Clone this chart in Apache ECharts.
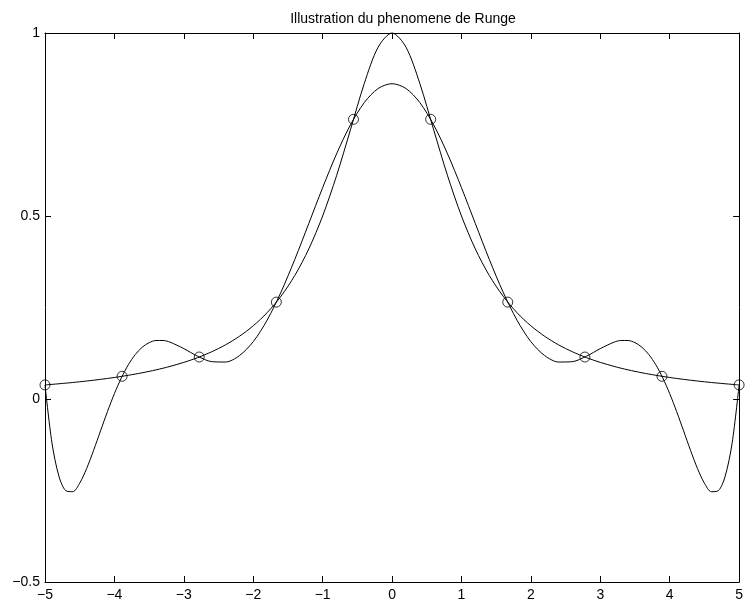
<!DOCTYPE html>
<html>
<head>
<meta charset="utf-8">
<script src="https://cdn.jsdelivr.net/npm/echarts@6/dist/echarts.min.js"></script>
<style>
	html, body { margin: 0; padding: 0; background: #fff; }
	#main { width: 746px; height: 607px; }
</style>
</head>
<body>
<div id="main"></div>
<script>
	// abscisses des points de trace
	var xs = [-5, -4.9, -4.8, -4.7, -4.6, -4.5, -4.4, -4.3, -4.2, -4.1, -4, -3.9, -3.8, -3.7, -3.6, -3.5, -3.4, -3.3,
		-3.2, -3, -2.8, -2.6, -2.4, -2.2, -2, -1.8, -1.6, -1.4, -1.2, -1, -0.8, -0.6, -0.4, -0.2,
		0, 0.2, 0.4, 0.6, 0.8, 1, 1.2, 1.4, 1.6, 1.8, 2, 2.2, 2.4, 2.6, 2.8, 3, 3.2,
		3.3, 3.4, 3.5, 3.6, 3.7, 3.8, 3.9, 4, 4.1, 4.2, 4.3, 4.4, 4.5, 4.6, 4.7, 4.8, 4.9, 5];

	// polynome interpolateur
	var polyVals = [0.0385, -0.1197, -0.2106, -0.2506, -0.2533, -0.2300, -0.1899, -0.1403, -0.0870, -0.0343, 0.0147, 0.0577, 0.0935, 0.1214, 0.1414, 0.1540, 0.1598, 0.1599,
		0.1554, 0.1377, 0.1168, 0.1021, 0.1010, 0.1184, 0.1566, 0.2154, 0.2920, 0.3819, 0.4793, 0.5775, 0.6695, 0.7488, 0.8099, 0.8484,
		0.8615, 0.8484, 0.8099, 0.7488, 0.6695, 0.5775, 0.4793, 0.3819, 0.2920, 0.2154, 0.1566, 0.1184, 0.1010, 0.1021, 0.1168, 0.1377, 0.1554,
		0.1599, 0.1598, 0.1540, 0.1414, 0.1214, 0.0935, 0.0577, 0.0147, -0.0343, -0.0870, -0.1403, -0.1899, -0.2300, -0.2533, -0.2506, -0.2106, -0.1197, 0.0385];

	// fonction de Runge
	var runVals = [0.0385, 0.0400, 0.0416, 0.0433, 0.0451, 0.0471, 0.0491, 0.0513, 0.0537, 0.0561, 0.0588, 0.0617, 0.0648, 0.0681, 0.0716, 0.0755, 0.0796, 0.0841,
		0.0890, 0.1000, 0.1131, 0.1289, 0.1479, 0.1712, 0.2000, 0.2358, 0.2809, 0.3378, 0.4098, 0.5000, 0.6098, 0.7353, 0.8621, 0.9615,
		1.0000, 0.9615, 0.8621, 0.7353, 0.6098, 0.5000, 0.4098, 0.3378, 0.2809, 0.2358, 0.2000, 0.1712, 0.1479, 0.1289, 0.1131, 0.1000, 0.0890,
		0.0841, 0.0796, 0.0755, 0.0716, 0.0681, 0.0648, 0.0617, 0.0588, 0.0561, 0.0537, 0.0513, 0.0491, 0.0471, 0.0451, 0.0433, 0.0416, 0.0400, 0.0385];

	// noeuds d'interpolation
	var nodeX = [-5, -3.889, -2.778, -1.667, -0.556, 0.556, 1.667, 2.778, 3.889, 5];
	var nodeY = [0.0385, 0.0620, 0.1147, 0.2647, 0.7642, 0.7642, 0.2647, 0.1147, 0.0620, 0.0385];

	function pairs(a, b) {
		var r = [];
		for (var i = 0; i < a.length; i++) r.push([a[i], b[i]]);
		return r;
	}
	function fmt(v) {
		return String(v).replace('-', '\u2212');
	}

	var font = 'Liberation Sans, Arial, sans-serif';
	var axisLine = { show: true, onZero: false, lineStyle: { color: '#000', width: 1 } };
	var tick = { show: true, inside: true, length: 6, lineStyle: { color: '#000', width: 1 } };

	var myChart = echarts.init(document.getElementById('main'), null, { renderer: 'canvas' });
	var option = {
		animation: false,
		backgroundColor: '#fff',
		title: {
			text: 'Illustration du phenomene de Runge',
			left: 398, top: 7, textAlign: 'center',
			textStyle: { fontFamily: font, fontSize: 14, fontWeight: 'normal', color: '#000' }
		},
		grid: { left: 45, right: 3, top: 33, bottom: 25, containLabel: false },
		xAxis: [
			{
				type: 'value', min: -5, max: 5, interval: 1, position: 'bottom',
				axisLine: axisLine, axisTick: tick, splitLine: { show: false },
				axisLabel: { fontFamily: font, fontSize: 14, color: '#000', margin: 6, formatter: fmt }
			},
			{
				type: 'value', min: -5, max: 5, interval: 1, position: 'top',
				axisLine: axisLine, axisTick: tick, splitLine: { show: false },
				axisLabel: { show: false }
			}
		],
		yAxis: [
			{
				type: 'value', min: -0.5, max: 1, interval: 0.5, position: 'left',
				axisLine: axisLine, axisTick: tick, splitLine: { show: false },
				axisLabel: { fontFamily: font, fontSize: 14, color: '#000', margin: 5, formatter: fmt }
			},
			{
				type: 'value', min: -0.5, max: 1, interval: 0.5, position: 'right',
				axisLine: axisLine, axisTick: tick, splitLine: { show: false },
				axisLabel: { show: false }
			}
		],
		series: [
			{
				name: 'runge', type: 'line', data: pairs(xs, runVals), smooth: 0.3,
				showSymbol: false, lineStyle: { color: '#000', width: 1 }, clip: false
			},
			{
				name: 'poly', type: 'line', data: pairs(xs, polyVals), smooth: 0.3,
				showSymbol: false, lineStyle: { color: '#000', width: 1 }, clip: false
			},
			{
				name: 'noeuds', type: 'scatter', data: pairs(nodeX, nodeY),
				symbol: 'circle', symbolSize: 10,
				itemStyle: { color: 'rgba(0,0,0,0)', borderColor: '#000', borderWidth: 1 },
				clip: false
			}
		]
	};
	myChart.setOption(option);
</script>
</body>
</html>
